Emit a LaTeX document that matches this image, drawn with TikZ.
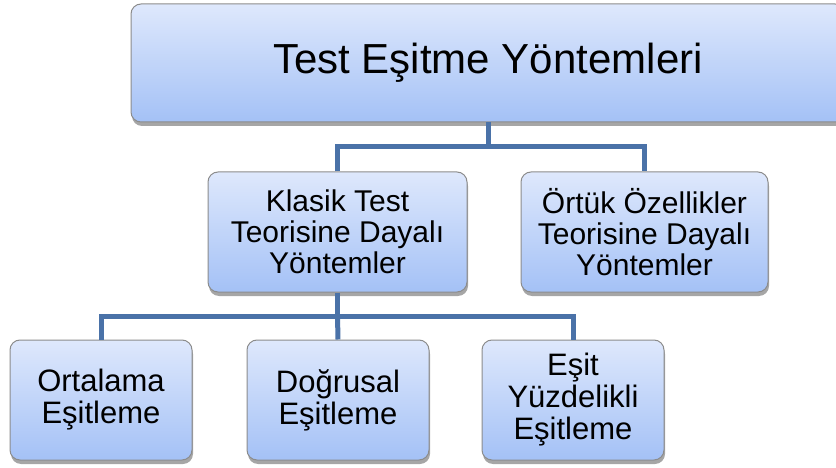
\documentclass[tikz,border=0pt]{standalone}
\usepackage{fontspec}
\setmainfont{Liberation Sans}
\usetikzlibrary{shadows}
\definecolor{boxtop}{RGB}{222,232,252}
\definecolor{boxbot}{RGB}{164,193,246}
\definecolor{boxline}{RGB}{140,140,140}
\definecolor{linkblue}{RGB}{74,114,168}
\begin{document}
\begin{tikzpicture}[x=1pt,y=-1pt,
    box/.style={draw=boxline,line width=1pt,rounded corners=10pt,
      top color=boxtop,bottom color=boxbot,align=center,inner sep=2pt,
      drop shadow={shadow xshift=1pt,shadow yshift=-4pt,opacity=0.35,fill=black},
      font=\fontsize{30}{31}\selectfont},
    leaf/.style={box,minimum width=182pt,minimum height=120pt,
      font=\fontsize{31}{32}\selectfont},
    link/.style={draw=linkblue,line width=5pt}]
    \useasboundingbox (0,0) rectangle (836,468);
    \node[box,minimum width=714pt,minimum height=118pt,
      font=\fontsize{42}{48}\selectfont] (test) at (488,63) {Test Eşitme Yöntemleri};
    \node[box,minimum width=259pt,minimum height=120pt] (klasik) at (337.5,232)
      {Klasik Test\\Teorisine Dayalı\\Yöntemler};
    \node[box,minimum width=247pt,minimum height=120pt] (ortuk) at (644.5,232)
      {Örtük Özellikler\\Teorisine Dayalı\\Yöntemler};
    \node[leaf] (ortalama) at (101,400) {Ortalama\\Eşitleme};
    \node[leaf] (dogrusal) at (338,400) {Doğrusal\\Eşitleme};
    \node[leaf] (yuzdelik) at (573,400) {Eşit\\Yüzdelikli\\Eşitleme};
    \coordinate (j1) at (488,147);
    \coordinate (j2) at (337.5,316);
    \draw[link] (test.south) -- (j1);
    \draw[link] (klasik.north) |- (j1) -| (ortuk.north);
    \draw[link] (klasik.south) -- (j2);
    \draw[link] (ortalama.north) |- (j2) -| (yuzdelik.north);
    \draw[link] (j2) -- (dogrusal.north);
  \end{tikzpicture}
\end{document}
